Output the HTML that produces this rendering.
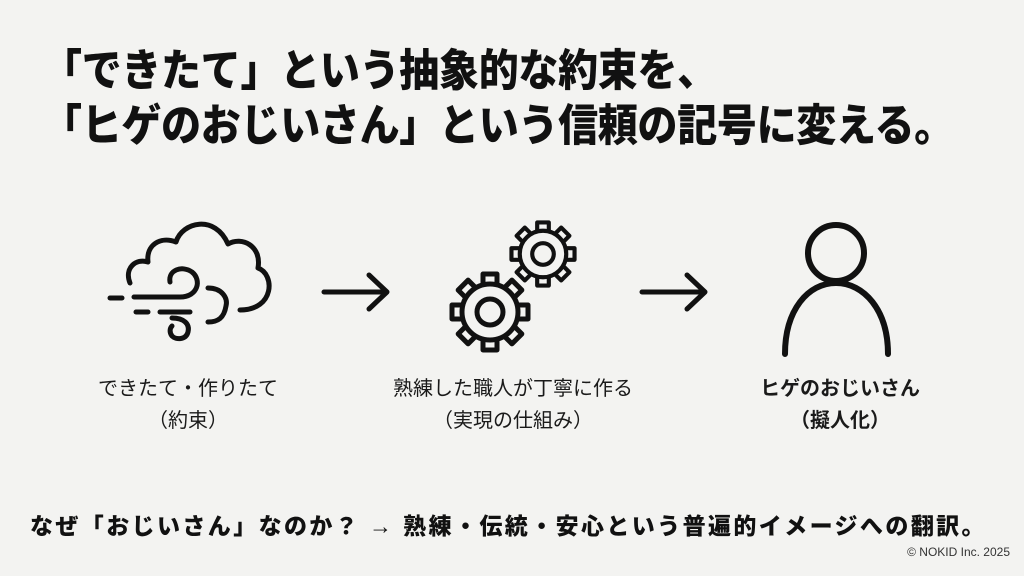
<!DOCTYPE html>
<html><head><meta charset="utf-8"><style>
body{margin:0;width:1024px;height:576px;background:#f3f3f1;position:relative;overflow:hidden;font-family:"Liberation Sans","Noto Sans CJK JP",sans-serif;color:#111}
.t{position:absolute;left:42px;font-weight:900;font-size:40px;line-height:1;white-space:nowrap;transform:scaleY(1.1);transform-origin:left top;letter-spacing:-0.3px}
.l{position:absolute;font-size:20px;text-align:center;width:300px;line-height:32px;color:#1a1a1a}
.b{position:absolute;left:30px;top:507px;font-weight:900;font-size:23px;white-space:nowrap;letter-spacing:2.4px}
.c{position:absolute;right:14px;top:545px;font-size:12px;color:#333}
</style></head><body>
<div class="t" style="top:49px">「できたて」という抽象的な約束を、</div>
<div class="t" style="top:104px">「ヒゲのおじいさん」という信頼の記号に変える。</div>
<svg width="1024" height="576" style="position:absolute;left:0;top:0" fill="none" stroke="#111" stroke-width="5" stroke-linecap="round" stroke-linejoin="round">
<defs>
<g id="gear">
<g fill="#f3f3f1">
<rect x="-7" y="-38" width="14" height="14" transform="rotate(0)"/>
<rect x="-7" y="-38" width="14" height="14" transform="rotate(45)"/>
<rect x="-7" y="-38" width="14" height="14" transform="rotate(90)"/>
<rect x="-7" y="-38" width="14" height="14" transform="rotate(135)"/>
<rect x="-7" y="-38" width="14" height="14" transform="rotate(180)"/>
<rect x="-7" y="-38" width="14" height="14" transform="rotate(225)"/>
<rect x="-7" y="-38" width="14" height="14" transform="rotate(270)"/>
<rect x="-7" y="-38" width="14" height="14" transform="rotate(315)"/>
<circle r="28"/>
</g>
<circle r="13"/>
</g>
</defs>
<path d="M130 283 C124 268 136 258 148 262 C146 245 160 236 176 242 C182 222 215 214 228 244 C242 236 262 246 258 268 C275 274 275 310 240 310"/>
<path d="M134 297 L180 297 C198 297 202 280 192 272 C182 265 168 270 170 282"/>
<line x1="110" y1="298" x2="122" y2="298"/>
<path d="M160 312 L190 312"/><line x1="136" y1="312" x2="148" y2="312"/>
<path d="M208 288 C222 288 228 298 226 306 C224 318 218 322 208 322"/>
<path d="M172 318 C184 318 190 324 188 332 C186 340 176 340 172 336 C169 332 170 328 172 326"/>
<path d="M324 292 L386 292 M369 275 L387 292 L369 309"/>
<path d="M642 292 L704 292 M687 275 L705 292 L687 309"/>
<use href="#gear" transform="translate(490,312)"/>
<use href="#gear" transform="translate(543,254) scale(0.83)"/>
<circle cx="836" cy="253" r="28" stroke-width="6"/>
<path d="M785 354 C785 310 808 283 836 283 C864 283 888 310 888 354" stroke-width="6"/>
</svg>
<div class="l" style="left:38px;top:373px">できたて・作りたて<br>（約束）</div>
<div class="l" style="left:363px;top:373px">熟練した職人が丁寧に作る<br>（実現の仕組み）</div>
<div class="l" style="left:690px;top:373px;font-weight:700">ヒゲのおじいさん<br>（擬人化）</div>
<div class="b">なぜ「おじいさん」なのか？ → 熟練・伝統・安心という普遍的イメージへの翻訳。</div>
<div class="c">© NOKID Inc. 2025</div>
</body></html>
